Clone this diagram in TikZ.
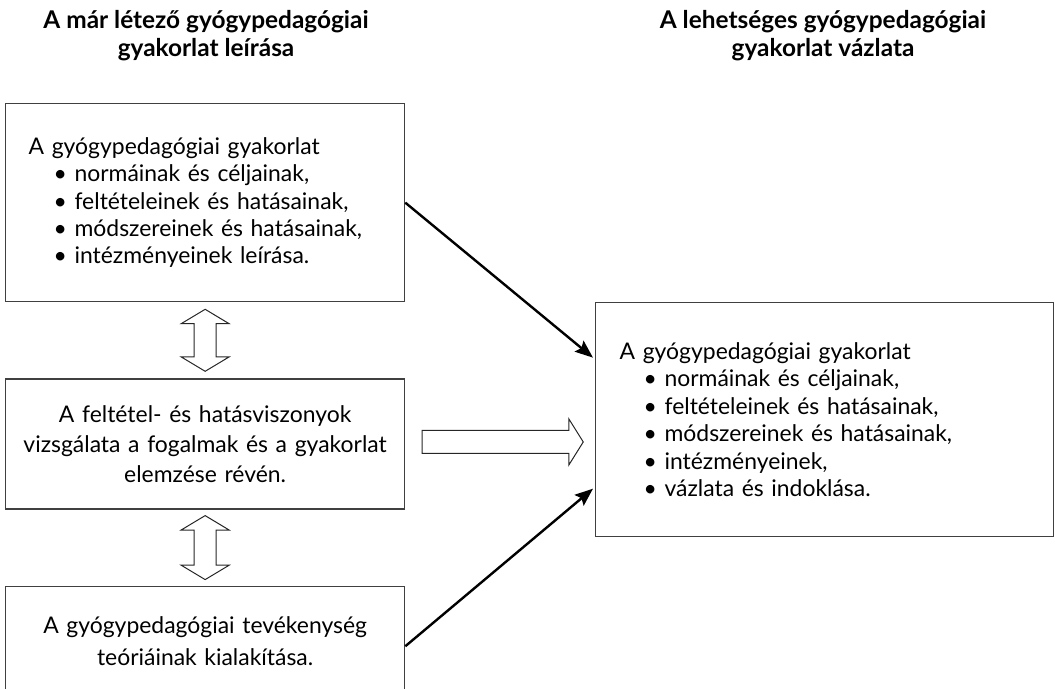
\documentclass[tikz,border=0pt]{standalone}
\usepackage{fontspec}
\setmainfont{Lato}
\usetikzlibrary{shapes.arrows,positioning,calc,arrows.meta}
\colorlet{boxgray}{black!75}

\begin{document}
\begin{tikzpicture}
  [x=1bp, y=1bp,
  box/.style={
    rectangle,
    draw=boxgray,
    line width=1.3bp,
    minimum width=399bp,
    inner ysep=0bp,
    font=\fontsize{23}{27.5}\selectfont
    },
  title/.style={
    align=center,
    font=\bfseries\fontsize{24.5}{28}\selectfont
    },
  hollow/.style={
    draw=black!85,
    line width=1bp,
    inner sep=10.5bp
    },
  link/.style={
    -{Stealth[length=18bp,width=14bp,inset=3bp]},
    line width=2.4bp
    }
  ]
  \clip (0,0) rectangle (1055,-689); % also the frame of the page

  \node [title] (lefttitle) at (206,-36) {A már létező gyógypedagógiai\\gyakorlat leírása};
  \node [title] (righttitle) at (823,-36) {A lehetséges gyógypedagógiai\\gyakorlat vázlata};

  \node [
    box,
    anchor=north west,
    minimum height=198bp,
    inner xsep=23bp,
    text width=353bp,
    align=left
    ]
    (leiras) at (5,-103)
    {A gyógypedagógiai gyakorlat\\
     \hspace*{25bp}\textbullet\ normáinak és céljainak,\\
     \hspace*{25bp}\textbullet\ feltételeinek és hatásainak,\\
     \hspace*{25bp}\textbullet\ módszereinek és hatásainak,\\
     \hspace*{25bp}\textbullet\ intézményeinek leírása.};

  \node [
    box,
    below=76bp of leiras,
    minimum height=130bp,
    inner xsep=10bp,
    text width=379bp,
    align=center,
    font=\fontsize{23}{30}\selectfont
    ]
    (vizsgalat)
    {A feltétel- és hatásviszonyok\\
     vizsgálata a fogalmak és a gyakorlat\\
     elemzése révén.};

  \node [
    box,
    below=76bp of vizsgalat,
    minimum height=110bp,
    inner xsep=10bp,
    text width=379bp,
    align=center,
    font=\fontsize{23}{32}\selectfont
    ]
    (teoria)
    {A gyógypedagógiai tevékenység\\
     teóriáinak kialakítása.};

  \node [
    box,
    anchor=north west,
    minimum width=458bp,
    minimum height=234bp,
    inner xsep=24bp,
    text width=410bp,
    align=left
    ]
    (vazlat) at (595,-302)
    {A gyógypedagógiai gyakorlat\\
     \hspace*{24bp}\textbullet\ normáinak és céljainak,\\
     \hspace*{24bp}\textbullet\ feltételeinek és hatásainak,\\
     \hspace*{24bp}\textbullet\ módszereinek és hatásainak,\\
     \hspace*{24bp}\textbullet\ intézményeinek,\\
     \hspace*{24bp}\textbullet\ vázlata és indoklása.};

  \node [hollow, double arrow, shape border rotate=90, minimum height=62bp, minimum width=47bp,
    double arrow head extend=13bp, double arrow tip angle=118]
    (nyilfent) at ($(leiras.south)!0.5!(vizsgalat.north)$) {};
  \node [hollow, double arrow, shape border rotate=90, minimum height=64bp, minimum width=47bp,
    double arrow head extend=13bp, double arrow tip angle=118]
    (nyillent) at ($(vizsgalat.south)!0.5!(teoria.north)$) {};
  \node [hollow, single arrow, inner sep=11bp, minimum height=161bp, minimum width=45bp,
    single arrow head extend=11.5bp, single arrow tip angle=116]
    (nyiljobb) at ($(vizsgalat.east)!0.5!(vazlat.west |- vizsgalat.east)+(-1,2)$) {};

  \draw [link] (leiras.east) -- ($(vazlat.west)+(-2,62)$);
  \draw [link] ($(teoria.east)+(0,-5)$) -- ($(vazlat.west)+(-2,-69)$);
\end{tikzpicture}
\end{document}
